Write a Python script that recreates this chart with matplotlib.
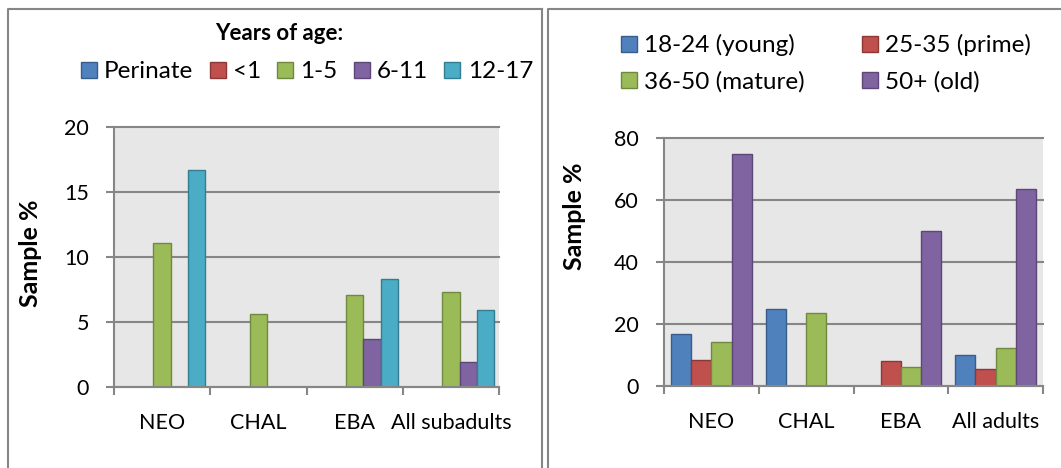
import matplotlib
matplotlib.use("Agg")
import matplotlib.pyplot as plt
from matplotlib.lines import Line2D
import numpy as np

plt.rcParams['font.family'] = ['Lato', 'DejaVu Sans']

# Left chart: subadults
SUB_CATS = ["NEO", "CHAL", "EBA", "All subadults"]
SUB_SERIES = ["Perinate", "<1", "1-5", "6-11", "12-17"]
SUB_VALUES = [
    [0, 0, 0, 0],          # Perinate
    [0, 0, 0, 0],          # <1
    [11.1, 5.6, 7.1, 7.3],  # 1-5
    [0, 0, 3.7, 1.9],      # 6-11
    [16.7, 0, 8.3, 5.9],   # 12-17
]

# Right chart: adults
ADULT_CATS = ["NEO", "CHAL", "EBA", "All adults"]
ADULT_SERIES = ["18-24 (young)", "25-35 (prime)", "36-50 (mature)", "50+ (old)"]
ADULT_VALUES = [
    [16.7, 25.0, 0, 10.0],
    [8.3, 0, 8.1, 5.6],
    [14.3, 23.5, 6.1, 12.4],
    [75.0, 0, 50.0, 63.6],
]

FILL = ["#4F81BD", "#C0504D", "#9BBB59", "#8064A2", "#4BACC6"]
EDGE = ["#385D8A", "#8C3836", "#71893F", "#5C4776", "#357D91"]
SUB_COLORS = [0, 1, 2, 3, 4]
ADULT_COLORS = [0, 1, 2, 3]

GRAY = "#868686"
W, H = 1061, 468
FS = 15.5
LEG_FS = 17.5

fig = plt.figure(figsize=(W / 100, H / 100), dpi=100)


def px_axes(x0, y0, x1, y1):
    return fig.add_axes([x0 / W, 1 - y1 / H, (x1 - x0) / W, (y1 - y0) / H])


def draw_bars(ax, cats, series, values, colors, width, ymax, ystep):
    n = len(series)
    x = np.arange(len(cats))
    handles = []
    for i, name in enumerate(series):
        off = (i - (n - 1) / 2) * width
        b = ax.bar(x + off, values[i], width, color=FILL[colors[i]],
                   edgecolor=EDGE[colors[i]], linewidth=1.0, label=name, zorder=2)
        handles.append(b)
    ax.set_xlim(-0.5, len(cats) - 0.5)
    ax.set_ylim(0, ymax)
    ax.set_yticks(np.arange(0, ymax + 1, ystep))
    ax.set_facecolor("#E7E7E7")
    ax.set_axisbelow(True)
    ax.grid(axis="y", color=GRAY, linewidth=1.5)
    for gl in ax.get_ygridlines():
        gl.set_clip_on(False)
    for s in ["top", "right"]:
        ax.spines[s].set_visible(False)
    for s in ["left", "bottom"]:
        ax.spines[s].set_color(GRAY)
        ax.spines[s].set_linewidth(1.5)
    ax.set_xticks(x)
    ax.set_xticklabels(cats)
    ax.set_xticks(np.arange(len(cats) + 1) - 0.5, minor=True)
    ax.tick_params(axis="x", which="major", length=0, pad=19, labelsize=FS)
    ax.tick_params(axis="x", which="minor", length=6, width=1.5, color=GRAY, direction="out")
    ax.tick_params(axis="y", length=6, width=1.5, color=GRAY, pad=12, labelsize=FS)
    return handles


# panel frames
for x0, x1 in [(7.5, 542), (547.5, 1070)]:
    fig.add_artist(Line2D([x0 / W, x0 / W, x1 / W], [0, 1 - 9 / H, 1 - 9 / H],
                          transform=fig.transFigure, color=GRAY, linewidth=1.5))
fig.add_artist(Line2D([542 / W, 542 / W], [0, 1 - 9 / H],
                      transform=fig.transFigure, color=GRAY, linewidth=1.5))

# left chart
ax1 = px_axes(114, 127, 499, 387)
h1 = draw_bars(ax1, SUB_CATS, SUB_SERIES, SUB_VALUES, SUB_COLORS, 0.18, 20, 5)
fig.text(279 / W, 1 - 33 / H, "Years of age:", ha="center", va="center",
         fontsize=16, fontweight="bold")
fig.legend(handles=h1, labels=SUB_SERIES, loc="center", ncol=5,
           bbox_to_anchor=(307 / W, 1 - 72 / H), bbox_transform=fig.transFigure,
           frameon=False, fontsize=LEG_FS, handlelength=0.66, handleheight=0.66,
           handletextpad=0.3, columnspacing=0.66, borderaxespad=0)
fig.text(31 / W, 1 - 253 / H, "Sample %", rotation=90, ha="center", va="center",
         fontsize=18, fontweight="bold")

# right chart; Excel fills legend rows first
ax2 = px_axes(664, 138, 1043, 386)
h2 = draw_bars(ax2, ADULT_CATS, ADULT_SERIES, ADULT_VALUES, ADULT_COLORS, 0.214, 80, 20)
order = [0, 2, 1, 3]
fig.legend(handles=[h2[i] for i in order], labels=[ADULT_SERIES[i] for i in order],
           loc="center", ncol=2,
           bbox_to_anchor=(826 / W, 1 - 63.5 / H), bbox_transform=fig.transFigure,
           frameon=False, fontsize=LEG_FS, handlelength=0.66, handleheight=0.66,
           handletextpad=0.3, columnspacing=2.35, labelspacing=0.6, borderaxespad=0)
fig.text(575 / W, 1 - 216 / H, "Sample %", rotation=90, ha="center", va="center",
         fontsize=18, fontweight="bold")

fig.savefig("out.png", dpi=100)
